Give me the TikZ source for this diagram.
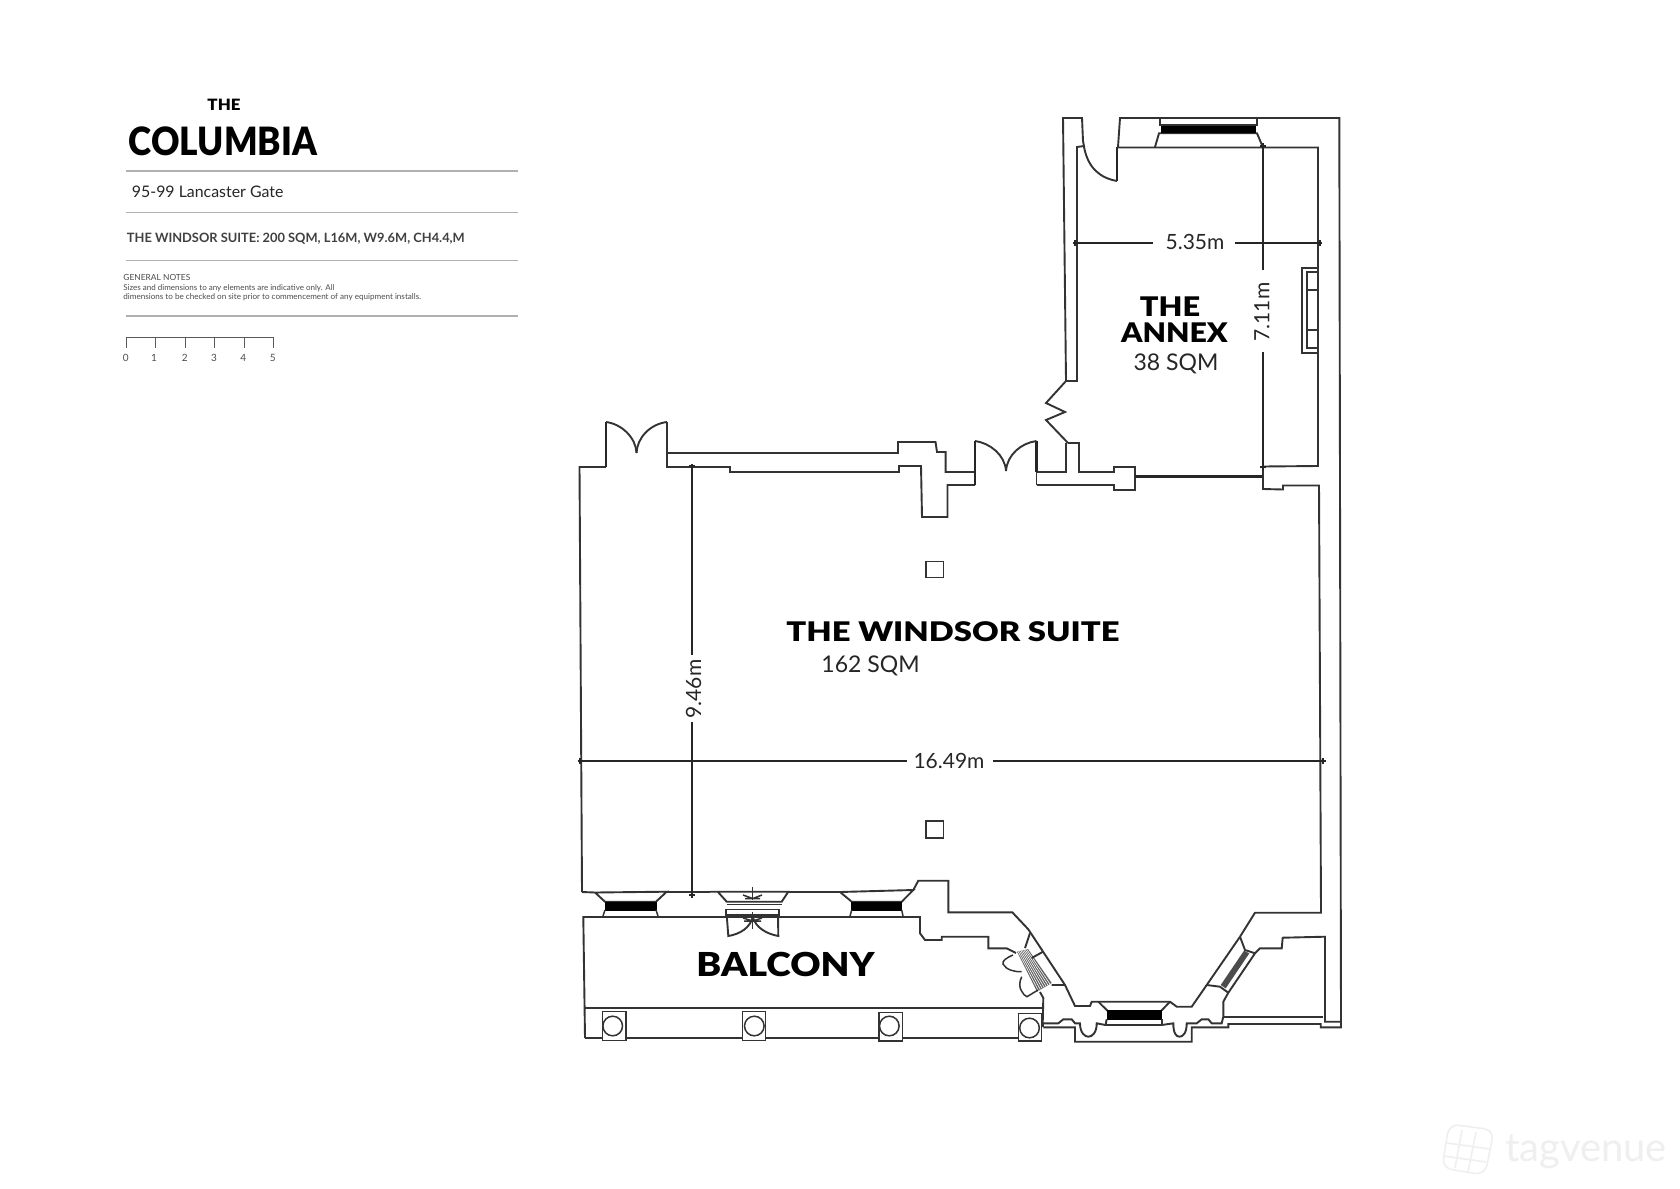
\documentclass[tikz,border=0pt]{standalone}
\usepackage{fontspec}
\usetikzlibrary{calc}
\setmainfont{Lato}
\newfontfamily\heavy[UprightFont={* Black},BoldFont={* Black}]{Lato}
\newcommand{\fsz}[1]{\fontsize{#1}{#1}\selectfont}
\newcommand{\wider}[2]{\scalebox{#1}[1]{#2}}
\definecolor{wallc}{HTML}{333333}
\definecolor{rulec}{HTML}{B0B0B0}
\definecolor{markc}{HTML}{EFEFEF}
\tikzset{
  wall/.style={draw=wallc,line width=0.95pt,line join=miter},
  thickwall/.style={draw=black!85,line width=1.3pt},
  thinwall/.style={draw=wallc,line width=0.75pt},
  blackbar/.style={fill=black,draw=black,line width=0.3pt},
  dimline/.style={draw=black!85,line width=0.6pt},
  ruleline/.style={draw=rulec,line width=0.7pt},
  scaleline/.style={draw=black!65,line width=0.5pt},
  room/.style={inner sep=0pt,text=black,font=\heavy\fsz{13.5}},
  area/.style={inner sep=0pt,text=black!85,font=\fsz{11.5}},
  dimtext/.style={inner sep=0pt,text=black!85,font=\fsz{10.5}},
  panel/.style={inner sep=0pt,anchor=west},
  scalenum/.style={inner sep=0pt,text=black!70,font=\fsz{5}},
}
\begin{document}
\begin{tikzpicture}[x=0.5pt,y=-0.5pt]
\useasboundingbox (0,0) rectangle (1680,1188);
\fill[white] (0,0) rectangle (1680,1188);

% ---- title panel
\node[inner sep=0pt,font=\heavy\fsz{7.8}] (the) at (224,104.5) {\wider{1.08}{THE}};
\node[inner sep=0pt,font=\heavy\fsz{19.5}] (columbia) at (223,141) {\wider{0.9}{COLUMBIA}};
\foreach \yy in {171,212.5,260.7,316}{\draw[ruleline] (126,\yy) -- (518,\yy);}
\node[panel,text=black!85,font=\fsz{7.95}] (addr) at (131.5,192) {95-99 Lancaster Gate};
\node[panel,text=black!75,font=\bfseries\fsz{6.42}] (spec) at (126.5,238.5) {THE WINDSOR SUITE: 200 SQM, L16M, W9.6M, CH4.4,M};
\node[panel,text=black!70,font=\fsz{4.2}] (gn) at (123,277.5) {GENERAL NOTES};
\node[panel,text=black!70,font=\fsz{4}] (gn1) at (123,288) {Sizes and dimensions to any elements are indicative only. All};
\node[panel,text=black!70,font=\fsz{4.05}] (gn2) at (123,297.7) {dimensions to be checked on site prior to commencement of any equipment installs.};
\draw[scaleline] (126,347.5) -- (126,337.3) -- (273.3,337.3) -- (273.3,347.5);
\foreach \xx in {155.7,185,214.7,244}{\draw[scaleline] (\xx,337.3) -- (\xx,347.5);}
\node[scalenum] (s0) at (125.7,357.5) {0};
\node[scalenum] (s1) at (154,357.5) {1};
\node[scalenum] (s2) at (184.7,357.5) {2};
\node[scalenum] (s3) at (214,357.5) {3};
\node[scalenum] (s4) at (243.3,357.5) {4};
\node[scalenum] (s5) at (272.7,357.5) {5};

% ---- annex walls
\draw[wall] (1066,381) -- (1063,118) -- (1082,118) -- (1083,141) -- (1084,146) -- (1077,147) -- (1077,381) -- (1066,381);
\draw[wall] (1066,381) -- (1046,403) -- (1065,412) -- (1046,420) -- (1068,443);
\draw[wall] (1068,443) -- (1079,443) -- (1079,472) -- (1114,472) -- (1114,467) -- (1135,467) -- (1135,490) -- (1114,490) -- (1114,485) -- (1036.5,485);
\draw[wall] (1066,443) -- (1066,472) -- (1036.5,472);
\draw[thickwall] (1135,476.5) -- (1262,476.5);
\draw[wall] (1118,147) -- (1120,118) -- (1339.3,118) -- (1341,1027.3) -- (1320.7,1027.3) -- (1320.7,1024) -- (1228.3,1024) -- (1228.3,1027.3) -- (1191.7,1027.3) -- (1191.7,1041.7) -- (1075,1041.7) -- (1075,1027.3) -- (1043.3,1027.3);
\draw[thickwall] (1117,147) -- (1117,181);
\draw[wall] (1084,147) .. controls (1088,168) and (1100,178) .. (1117,181);
\draw[wall] (1117,147.5) -- (1318,147.5) -- (1318,466) -- (1263,466.5);
\draw[wall] (1155,147) -- (1159,133.3) -- (1257,133.3) -- (1263,147.5);
\draw[wall] (1263,466.5) -- (1263,489) -- (1283,489.5) -- (1283,485.5) -- (1319,485.5) -- (1321,912.7) -- (1255,912.7) -- (1240,936.7);
\draw[wall] (1160,118) -- (1160,125) -- (1257,125) -- (1257,118);
\fill[blackbar] (1161,126.5) rectangle (1255,132.5);
\draw[thinwall] (1302,268) rectangle (1318,353);
\draw[thinwall] (1307,272) rectangle (1318,348);
\draw[thinwall] (1307,290) -- (1318,290) (1307,330) -- (1318,330);

% ---- north wall of the Windsor Suite
\draw[wall] (582,892) -- (579.5,467) -- (606,467);
\draw[thickwall] (606,422) -- (606,467);
\draw[wall] (606,422) .. controls (622,424) and (636,438) .. (636.5,453);
\draw[wall] (667,422) .. controls (650,424) and (637,438) .. (636.5,453);
\draw[wall] (667,422) -- (667,467) -- (730,467) -- (730,472) -- (899,472) -- (899,466) -- (921,466) -- (922,517) -- (947.5,517) -- (947.5,485) -- (975,485);
\draw[wall] (667,453) -- (898,453) -- (898,442) -- (935.5,442) -- (937,452) -- (945.6,452) -- (945.6,472) -- (975,472);
\draw[thickwall] (975,441) -- (975,485);
\draw[thickwall] (1036.5,441) -- (1036.5,472);
\draw[wall] (1036.5,472) -- (1036.5,485);
\draw[wall] (975,441) .. controls (990,443) and (1005,455) .. (1006,471);
\draw[wall] (1036.5,441) .. controls (1021,443) and (1007,455) .. (1006,471);

% ---- pillars
\draw[wall] (926,561.5) rectangle (943.5,577.5);
\draw[wall] (926,821) rectangle (943.5,838);

% ---- south wall and windows
\draw[wall] (582,892) -- (595,892.5) -- (666.7,891.7) -- (656,901.7) -- (605,901.7) -- (595,892.5);
\fill[blackbar] (605,902) rectangle (656,910);
\draw[thinwall] (605,910) -- (603,916) (656,910) -- (658,916);
\draw[wall] (666.7,892) -- (710,892);
\draw[wall] (710,891.7) -- (788.3,891.7) -- (781.7,901.7) -- (726.7,901.7) -- (717.7,891.7);
\draw[thinwall] (726.7,904.5) -- (781.7,904.5);
\draw[wall] (726,909.5) rectangle (779.3,915);
\draw[wall] (726.7,915) -- (728.3,936) .. controls (740,934) and (750,928) .. (752.7,917);
\draw[wall] (778,915) -- (778.3,936) .. controls (767,934) and (756,928) .. (752.7,917);
\draw[thinwall] (752.7,886.7) -- (752.7,900) (752.7,912) -- (752.7,929);
\draw[thinwall] (743,895) -- (752.7,898.5) -- (762,895) (745,898.5) -- (760,898.5);
\draw[thinwall] (743,918) -- (752.7,921) -- (762,918) (744,921) -- (761,921);
\draw[wall] (788.3,892) -- (840,892);
\draw[wall] (840,892) -- (913.3,890) -- (901.7,901.7) -- (851.7,901.7) -- (840,892);
\fill[blackbar] (851.7,902) rectangle (901.7,910);
\draw[thinwall] (851.7,910) -- (850,916) (901.7,910) -- (903,916);
\draw[wall] (913.3,890) -- (918.3,880.7) -- (948.3,880.7) -- (948.3,912.3) -- (1012.3,912.3) -- (1028.3,929.3) -- (1065,985) -- (1075,1006) -- (1090,1006) -- (1091.7,1001.7) -- (1170,1001.7) -- (1176.7,1006.7) -- (1191.7,1006.7) -- (1206.7,985) -- (1240,936.7);
\draw[wall] (1098.3,1001.7) -- (1107.7,1011) (1170,1001.7) -- (1161,1011);
\fill[blackbar] (1107.7,1010.7) rectangle (1161,1019);
\draw[wall] (1106.7,1019.3) -- (1105.5,1025);
\draw[wall] (1161.7,1019.3) -- (1161.7,1025);

% ---- balcony
\draw[wall] (585,1038.2) -- (583.3,917) -- (920,917) -- (920,933.3) -- (925,940) -- (941.7,940) -- (941.7,936.7) -- (988.3,936.7) -- (988.3,948.3) -- (1006.7,948.3) -- (1016,953);
\draw[thinwall] (584,1008.2) -- (1042.7,1008.2);
\draw[thinwall] (585,1038.2) -- (1018.3,1038.2);
\foreach \xa/\ya/\xb/\yb/\xc/\yc in {602.3/1011.7/626/1040.3/612.7/1026, 742.3/1011.7/765.7/1040.3/754.3/1026, 879/1012.3/902.3/1041/889.3/1026, 1018.3/1013.3/1041.7/1041/1029.5/1028}{
  \draw[thinwall,fill=white] (\xa,\ya) rectangle (\xb,\yb);
  \draw[thinwall,fill=white] (\xc,\yc) circle[radius=9.8];
}

% ---- stair door on the chamfer
\coordinate (ha) at (1017,951.7);
\coordinate (hb) at (1028,949);
\coordinate (hc) at (1037,991.7);
\coordinate (hd) at (1051.7,983);
\fill[black!62] (ha) -- (hb) -- (hd) -- (hc) -- cycle;
\foreach \t in {0.1,0.23,0.36,0.49,0.62,0.75,0.88}{
  \draw[white,line width=0.3pt] ($(ha)!\t!(hb)$) -- ($(hc)!\t!(hd)$);
}
\draw[wall] (1030,933) -- (1025,948) (1031.7,958) -- (1043,951.7) (1051.7,985) -- (1065,985);
\draw[thinwall] (1013,955) .. controls (1006,958) and (1002,961) .. (1003,964) .. controls (1006,970) and (1015,972) .. (1021.7,971.7);
\draw[thinwall] (1021.7,976.7) .. controls (1019,982) and (1019,988) .. (1022,991.7) .. controls (1023,994) and (1025,996) .. (1027,996.7) -- (1038,990);
\draw[wall] (1040,992) -- (1043.3,998) -- (1042.7,1023.3) -- (1058.3,1023.3) -- (1063.3,1019.3) -- (1071.7,1019.3) -- (1075,1023.3) -- (1080,1023.3) .. controls (1080,1033) and (1085,1036.7) .. (1088.3,1036.7) .. controls (1092,1036.7) and (1096.7,1033) .. (1096.7,1023.3) -- (1105.5,1025) -- (1161.7,1025) -- (1173.3,1023.3) .. controls (1173.3,1033) and (1176,1036.7) .. (1179.5,1036.7) .. controls (1183,1036.7) and (1186.7,1033) .. (1186.7,1023.3) -- (1196.7,1023.3) -- (1201.7,1019.3) -- (1208.3,1019.3) -- (1211.7,1023.3) -- (1221.7,1023.3) -- (1223.3,1016.7) -- (1223.3,1001.7) -- (1228.3,992.7) -- (1255,953.3) -- (1260,948.3) -- (1281.7,948.3) -- (1282.7,937.7) -- (1325,936.7) -- (1325,1021.7) -- (1341,1021.7);
\draw[wall] (1223.3,1016.7) -- (1322.7,1016.7);
\draw[wall] (1043,1027.3) -- (1043,1023.3);

% ---- window on the right chamfer
\fill[black!70] (1244,950.7) -- (1249.3,953.3) -- (1225.7,988.3) -- (1220.7,985) -- cycle;
\draw[wall] (1240,936.7) -- (1245,950) -- (1255,953.3);
\draw[wall] (1206.7,985) -- (1220,986.7) -- (1228.3,992.7);

% ---- dimension lines
\draw[dimline] (1073,243) -- (1153,243) (1235,243) -- (1322,243);
\draw[dimline] (1263,143) -- (1263,270) (1263,352) -- (1263,470);
\draw[dimline] (692,464) -- (692,655) (692,721.5) -- (692,897.5);
\draw[dimline] (577.5,761) -- (907,761) (993,761) -- (1325.5,761);
\draw[dimline] (1075,240) -- (1075,246) (1320,240) -- (1320,246) (1260,146) -- (1266,146) (1260,467) -- (1266,467) (689,466) -- (695,466) (689,895) -- (695,895) (580,758) -- (580,764) (1323,758) -- (1323,764);
\node[dimtext] (d535) at (1195,242) {5.35m};
\node[dimtext,rotate=90] (d711) at (1262,312) {7.11m};
\node[dimtext,rotate=90] (d946) at (693.5,689) {9.46m};
\node[dimtext] (d1649) at (949,761) {16.49m};

% ---- room labels
\node[room] (t1) at (1170,306.5) {\wider{1.14}{THE}};
\node[room] (t2) at (1174.5,332.5) {\wider{1.12}{ANNEX}};
\node[area] (t3) at (1176,363.5) {38 SQM};
\node[room] (t4) at (953,632) {\wider{1.215}{THE WINDSOR SUITE}};
\node[area] (t5) at (870.5,665.5) {162 SQM};
\node[room,font=\heavy\fsz{16.5}] (t6) at (785.5,964) {\wider{1.13}{BALCONY}};

% ---- watermark
\node[inner sep=0pt,text=markc,font=\fsz{20}] (wm) at (1586,1152) {tagvenue};
\draw[markc,line width=0.8pt,rounded corners=5pt] (1449,1124) -- (1494,1130) -- (1485,1175) -- (1442,1168) -- cycle;
\draw[markc,line width=0.8pt] (1462,1130) -- (1455,1168) (1476,1132) -- (1468,1172) (1447,1143) -- (1490,1149) (1444,1156) -- (1486,1162);
\end{tikzpicture}
\end{document}
